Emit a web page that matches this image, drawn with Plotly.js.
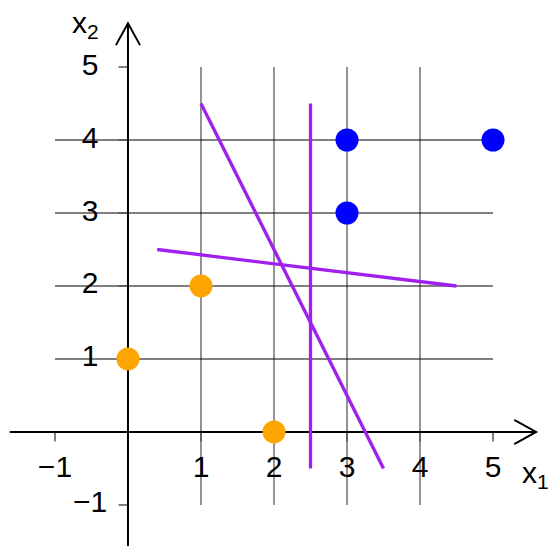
<!DOCTYPE html>
<html>
<head>
<meta charset="utf-8">
<script src="https://cdn.plot.ly/plotly-3.0.1.min.js"></script>
<style>html,body{margin:0;padding:0;background:#fff;}#chart{width:548px;height:546px;}</style>
</head>
<body>
<div id="chart"></div>
<script>
// ---- data ----
var orangeX = [0, 1, 2];
var orangeY = [1, 2, 0];
var blueX = [3, 3, 5];
var blueY = [4, 3, 4];
var line1X = [1, 3.5];
var line1Y = [4.5, -0.5];
var line2X = [2.5, 2.5];
var line2Y = [4.5, -0.5];
var line3X = [0.4, 4.5];
var line3Y = [2.5, 2.0];
var xTickVals = [-1, 1, 2, 3, 4, 5];
var xTickText = ["\u22121", "1", "2", "3", "4", "5"];
var yTickVals = [-1, 1, 2, 3, 4, 5];
var yTickText = ["\u22121", "1", "2", "3", "4", "5"];
var gridX = [1, 2, 3, 4];
var gridY = [1, 2, 3, 4];

var FONT = "Liberation Sans, Arial, sans-serif";
var PURPLE = "#A020F0";
var FS = 30;

var shapes = [];
gridX.forEach(function (v) {
  shapes.push({type: "line", xref: "x", yref: "y", x0: v, x1: v, y0: -1, y1: 5,
    line: {color: "#707070", width: 1.5}, layer: "below"});
});
gridY.forEach(function (v) {
  shapes.push({type: "line", xref: "x", yref: "y", x0: -1, x1: 5, y0: v, y1: v,
    line: {color: "#000000", width: 1.2}, layer: "below"});
});
xTickVals.forEach(function (v) {
  shapes.push({type: "line", xref: "x", yref: "y", x0: v, x1: v, y0: 0, y1: -0.13,
    line: {color: "#555555", width: 1.5}, layer: "below"});
});
yTickVals.forEach(function (v) {
  shapes.push({type: "line", xref: "x", yref: "y", x0: 0, x1: -0.13, y0: v, y1: v,
    line: {color: "#555555", width: 1.5}, layer: "below"});
});
// axes with open arrowheads
shapes.push({type: "line", xref: "x", yref: "y", x0: -1.62, x1: 5.58, y0: 0, y1: 0,
  line: {color: "#000", width: 2}, layer: "below"});
shapes.push({type: "line", xref: "x", yref: "y", x0: 0, x1: 0, y0: -1.7, y1: 5.59,
  line: {color: "#000", width: 2}, layer: "below"});
shapes.push({type: "path", xref: "x", yref: "y",
  path: "M5.29,0.165 L5.59,0 L5.29,-0.165", line: {color: "#000", width: 2}, layer: "below"});
shapes.push({type: "path", xref: "x", yref: "y",
  path: "M-0.165,5.30 L0,5.60 L0.165,5.30", line: {color: "#000", width: 2}, layer: "below"});

var traces = [
  {x: line1X, y: line1Y, mode: "lines", line: {color: PURPLE, width: 3.3}},
  {x: line2X, y: line2Y, mode: "lines", line: {color: PURPLE, width: 3.3}},
  {x: line3X, y: line3Y, mode: "lines", line: {color: PURPLE, width: 3.3}},
  {x: orangeX, y: orangeY, mode: "markers", marker: {color: "#FFA500", size: 23}},
  {x: blueX, y: blueY, mode: "markers", marker: {color: "#0000FF", size: 23}},
  {x: xTickVals, y: xTickVals.map(function () { return -0.52; }), mode: "text",
    text: xTickText, textposition: "middle center",
    textfont: {family: FONT, size: FS, color: "#000"}},
  {x: yTickVals.map(function () { return -0.52; }), y: yTickVals, mode: "text",
    text: yTickText, textposition: "middle center",
    textfont: {family: FONT, size: FS, color: "#000"}}
];

var layout = {
  width: 548, height: 546,
  margin: {l: 0, r: 0, t: 0, b: 0},
  paper_bgcolor: "#fff", plot_bgcolor: "#fff",
  showlegend: false, hovermode: false,
  xaxis: {range: [-1.753, 5.753], visible: false, fixedrange: true},
  yaxis: {range: [-1.562, 5.918], visible: false, fixedrange: true},
  shapes: shapes,
  annotations: [
    {xref: "x", yref: "y", x: -0.58, y: 5.58, text: "x<sub>2</sub>", showarrow: false,
      font: {family: FONT, size: FS, color: "#000"}},
    {xref: "x", yref: "y", x: 5.58, y: -0.58, text: "x<sub>1</sub>", showarrow: false,
      font: {family: FONT, size: FS, color: "#000"}}
  ]
};

Plotly.newPlot("chart", traces, layout, {staticPlot: true, displayModeBar: false});
</script>
</body>
</html>
